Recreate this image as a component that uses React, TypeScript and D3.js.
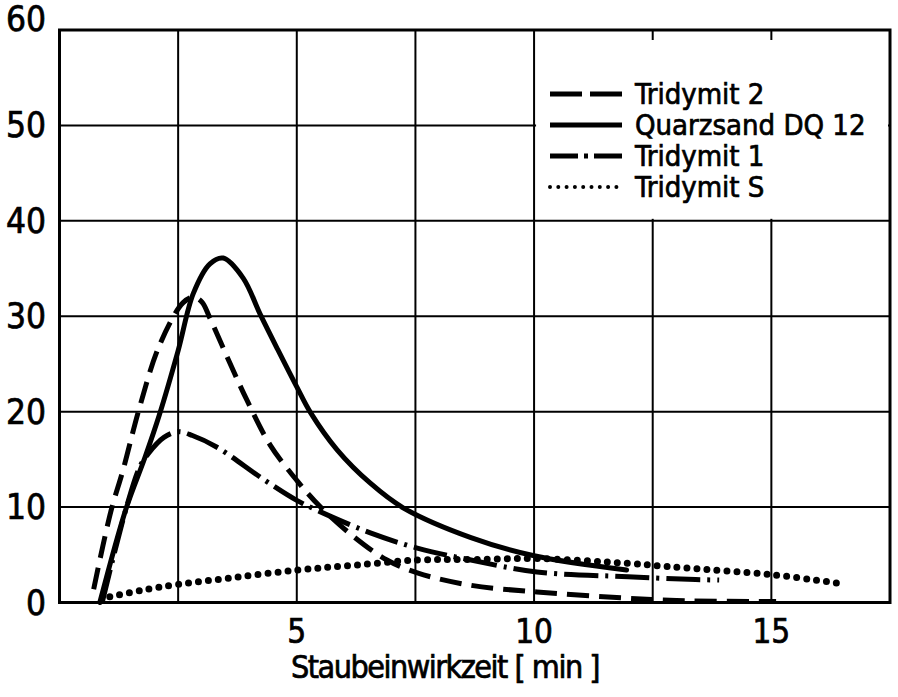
import React from "react";
import * as d3 from "d3";

// Quarzsand DQ 12 (solid)
const quarzX = [0.85, 1.4, 1.8, 2.1, 2.5, 2.82, 3.17, 3.45, 3.87, 4.23, 4.6, 5.0, 5.29, 5.85, 6.55, 7.25, 8.67, 10.0, 11.95];
const quarzY = [0, 9.8, 15.2, 19.6, 26.4, 32.4, 35.5, 36.1, 34.0, 30.2, 26.5, 22.6, 19.9, 16.0, 12.5, 9.9, 6.8, 4.9, 3.4];

// Tridymit 2 (dashed)
const tri2X = [0.72, 1.08, 1.34, 1.69, 2.11, 2.6, 2.82, 3.0, 3.17, 3.59, 3.95, 4.44, 5.0, 5.5, 6.2, 6.9, 7.54, 8.67, 10.06, 11.98, 13.0, 15.1];
const tri2Y = [1.4, 9.5, 13.9, 20.5, 27.0, 31.4, 32.0, 31.5, 29.8, 25.1, 21.2, 16.5, 12.8, 10.0, 6.9, 4.45, 3.1, 1.8, 1.1, 0.45, 0.2, 0.1];

// Tridymit 1 (dash-dot)
const tri1X = [0.9, 1.4, 1.69, 1.87, 2.2, 2.5, 2.8, 3.31, 4.3, 5.0, 5.5, 6.55, 7.54, 8.67, 10.06, 11.98, 13.1, 13.9];
const tri1Y = [0, 9.8, 14.2, 15.6, 17.3, 17.9, 17.5, 16.3, 12.9, 10.7, 9.5, 7.3, 5.7, 4.45, 3.2, 2.7, 2.45, 2.35];

// Tridymit S (dotted)
const triSX = [1.06, 1.69, 2.5, 3.66, 5.0, 6.2, 7.54, 8.67, 10.06, 11.98, 13.1, 15.05, 16.5];
const triSY = [0.6, 1.24, 1.9, 2.6, 3.4, 3.9, 4.45, 4.5, 4.6, 4.1, 3.65, 2.9, 1.95];

const xTicks = [5, 10, 15];
const yTicks = [0, 10, 20, 30, 40, 50, 60];
const xGrid = [2.5, 5, 7.5, 10, 12.5, 15];
const yGrid = [10, 20, 30, 40, 50];
const legendLabels = ["Tridymit 2", "Quarzsand DQ 12", "Tridymit 1", "Tridymit S"];
const xTitle = "Staubeinwirkzeit [ min ]";

const FONT = "'DejaVu Sans Condensed', 'DejaVu Sans', sans-serif";

const styles = [
  { dash: "22 10", width: 5, cap: "butt" },
  { dash: "none", width: 5, cap: "round" },
  { dash: "34 7 3 7", width: 5, cap: "butt" },
  { dash: "0 10", width: 7, cap: "round" },
];
const legendStyles = [
  { dash: "32 8", width: 5, cap: "butt" },
  { dash: "none", width: 5, cap: "butt" },
  { dash: "28 6 4 6", width: 5, cap: "butt" },
  { dash: "0 8.3", width: 4, cap: "round" },
];

export default function App() {
  const W = 898, H = 697;
  const x = d3.scaleLinear().domain([0, 17.5]).range([59.5, 890]);
  const y = d3.scaleLinear().domain([0, 60]).range([602.5, 30]);
  const line = d3
    .line<[number, number]>()
    .x((d) => x(d[0]))
    .y((d) => y(d[1]))
    .curve(d3.curveCatmullRom.alpha(0.5));

  const series = [
    d3.zip(tri2X, tri2Y) as [number, number][],
    d3.zip(quarzX, quarzY) as [number, number][],
    d3.zip(tri1X, tri1Y) as [number, number][],
    d3.zip(triSX, triSY) as [number, number][],
  ];
  const drawOrder = [3, 2, 0, 1];
  const legendRowY = [94, 125, 156, 187];
  const textStroke = { stroke: "#000", strokeWidth: 0.7 };

  return (
    <svg width={W} height={H} style={{ position: "absolute", left: 0, top: 0, background: "#fff" }}>
      <rect x={0} y={0} width={W} height={H} fill="#fff" />
      {xGrid.map((g) => (
        <line key={"xg" + g} x1={x(g)} x2={x(g)} y1={y(60)} y2={y(0)} stroke="#000" strokeWidth={2} />
      ))}
      {yGrid.map((g) => (
        <line key={"yg" + g} x1={x(0)} x2={x(17.5)} y1={y(g)} y2={y(g)} stroke="#000" strokeWidth={2} />
      ))}
      {/* legend box */}
      <rect x={x(10) + 2} y={40} width={x(17.5) - x(10) - 4} height={y(40) - 42} fill="#fff" />
      <rect x={x(0)} y={y(60)} width={x(17.5) - x(0)} height={y(0) - y(60)} fill="none" stroke="#000" strokeWidth={3} />
      {drawOrder.map((i) => (
        <path
          key={"s" + i}
          d={line(series[i]) || ""}
          fill="none"
          stroke="#000"
          strokeWidth={styles[i].width}
          strokeDasharray={styles[i].dash}
          strokeLinecap={styles[i].cap as any}
          strokeLinejoin="round"
        />
      ))}
      {legendLabels.map((lab, i) => (
        <g key={"lg" + i}>
          <line
            x1={550}
            x2={622}
            y1={legendRowY[i]}
            y2={legendRowY[i]}
            stroke="#000"
            strokeWidth={legendStyles[i].width}
            strokeDasharray={legendStyles[i].dash}
            strokeLinecap={legendStyles[i].cap as any}
          />
          <text x={635} y={legendRowY[i]} dominantBaseline="central" fontFamily={FONT} fontSize={29} fill="#000" {...textStroke}>
            {lab}
          </text>
        </g>
      ))}
      {yTicks.map((t) => (
        <text
          key={"yt" + t}
          x={46}
          y={t === 60 ? y(t) - 11 : y(t)}
          textAnchor="end"
          dominantBaseline="central"
          fontFamily={FONT}
          fontSize={35}
          fill="#000"
          {...textStroke}
        >
          {t}
        </text>
      ))}
      {xTicks.map((t) => (
        <text key={"xt" + t} x={x(t)} y={631} textAnchor="middle" dominantBaseline="central" fontFamily={FONT} fontSize={33} fill="#000" {...textStroke}>
          {t}
        </text>
      ))}
      <text x={445} y={667} textAnchor="middle" dominantBaseline="central" fontFamily={FONT} fontSize={32} letterSpacing={-1.5} fill="#000" {...textStroke}>
        {xTitle}
      </text>
    </svg>
  );
}
